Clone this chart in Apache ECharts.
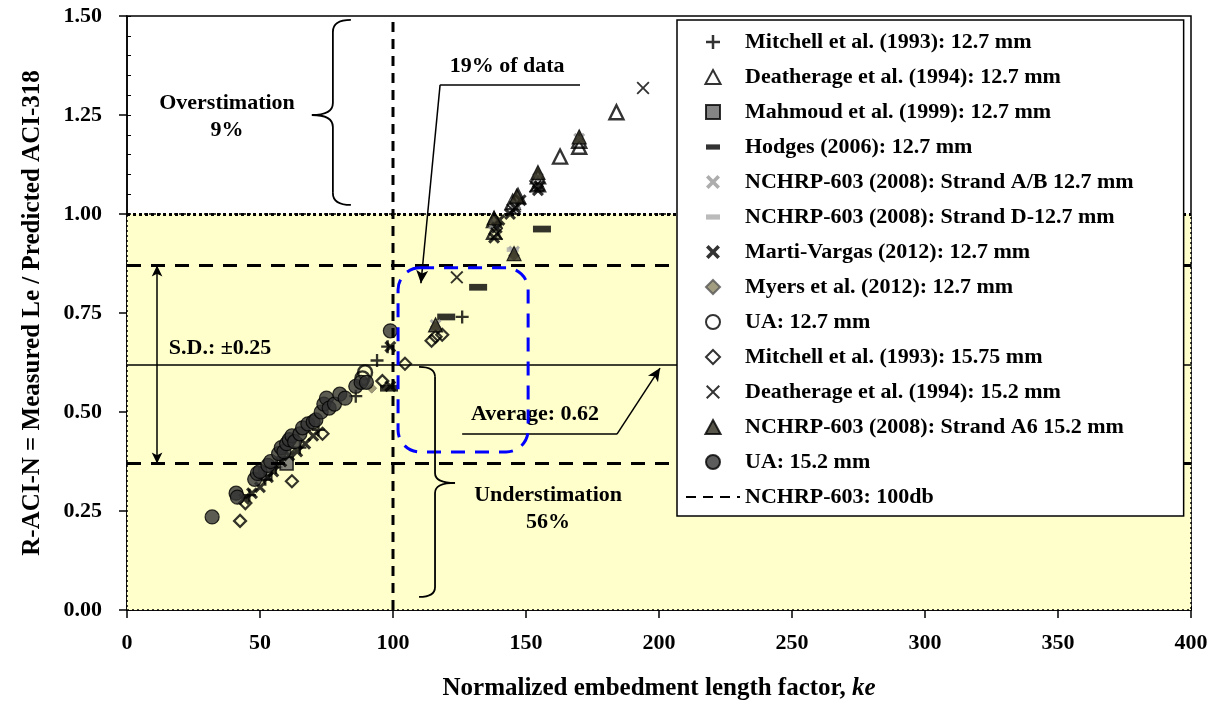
<!DOCTYPE html>
<html><head><meta charset="utf-8">
<script src="https://cdn.jsdelivr.net/npm/echarts@6/dist/echarts.min.js"></script>
<style>html,body{margin:0;padding:0;background:#fff}#c{width:1225px;height:711px}</style>
</head><body><div id="c"></div>
<script>
const FONT = '"Liberation Serif","Times New Roman",serif';

// ---- data (x = normalized embedment length factor ke, y = R-ACI-N) ----
const mitchell127   = [[46,0.29],[52,0.33],[56,0.36],[65,0.41],[72,0.455],[86,0.54],[94,0.63],[98,0.665],[126,0.74]];
const deatherage127 = [[138,0.985],[138,0.955],[145,1.03],[147,1.045],[154.5,1.095],[154.5,1.075],[162.8,1.145],[170,1.185],[170,1.17],[184,1.257]];
const mahmoud127    = [[52,0.345],[60,0.37]];
const hodges127     = [[98.5,0.56],[120,0.74],[132,0.815],[156,0.962]];
const nchrpAB127    = [[116,0.72],[145.5,0.905],[138,0.975],[146,1.025],[154.5,1.09],[170,1.19]];
const nchrpD127     = [[145,0.91]];
const martiVargas127= [[44,0.28],[47,0.295],[50,0.31],[53,0.335],[55,0.35],[58,0.375],[61,0.39],[64,0.4],[67,0.42],[70,0.44],[99,0.665],[99,0.565],[138,0.94],[139,0.965],[140,0.985],[144,1.0],[146,1.015],[148,1.035],[154.5,1.06],[155,1.07]];
const myers127      = [[92,0.56],[116,0.715],[145.5,0.895]];
const ua127         = [[88.5,0.585],[89.5,0.6]];
const mitchell1575  = [[42.5,0.225],[44.5,0.27],[62,0.325],[73.5,0.445],[96,0.578],[104.5,0.622],[114.5,0.68],[116,0.69],[118.5,0.695]];
const deatherage152 = [[124,0.84],[139,0.95],[145,1.01],[153.5,1.07],[194,1.318]];
const nchrpA6152    = [[116,0.72],[138,0.99],[145.5,0.9],[146.5,1.045],[154.5,1.105],[170,1.195]];
const ua152         = [[32,0.235],[41,0.295],[41.5,0.285],[48,0.33],[49,0.345],[50,0.35],[53,0.365],[54,0.375],[57,0.395],[58,0.41],[59,0.40],[60,0.42],[61,0.43],[62,0.44],[63,0.425],[65,0.445],[66,0.46],[68,0.47],[70,0.475],[71,0.48],[73,0.5],[74,0.52],[75,0.535],[76,0.51],[78,0.52],[80,0.545],[82,0.535],[86,0.565],[88,0.575],[90,0.575],[99,0.705]];
const limit100db    = [[100,0],[100,1.5]];

const seriesNames = ['Mitchell et al. (1993): 12.7 mm','Deatherage et al. (1994): 12.7 mm','Mahmoud et al. (1999): 12.7 mm','Hodges (2006): 12.7 mm','NCHRP-603 (2008): Strand A/B 12.7 mm','NCHRP-603 (2008): Strand D-12.7 mm','Marti-Vargas (2012): 12.7 mm','Myers et al. (2012): 12.7 mm','UA: 12.7 mm','Mitchell et al. (1993): 15.75 mm','Deatherage et al. (1994): 15.2 mm','NCHRP-603 (2008): Strand A6 15.2 mm','UA: 15.2 mm','NCHRP-603: 100db'];

const xTicks = {min:0, max:400, step:50};
const yTicks = {min:0, max:1.5, step:0.25};

// reference levels
const avgLine = 0.62, sdUpper = 0.87, sdLower = 0.37, unity = 1.0;

// annotations (data coordinates)
const annotTexts = [
  {text:'Overstimation', x:37.6, y:1.280},
  {text:'9%', x:37.6, y:1.212},
  {text:'19% of data', x:142.9, y:1.374},
  {text:'S.D.: \u00b10.25', x:35, y:0.662},
  {text:'Average: 0.62', x:153.4, y:0.495},
  {text:'Understimation', x:158.3, y:0.290},
  {text:'56%', x:158.3, y:0.222}
];
const blueBox = [[101.9,0.864],[150.8,0.399]];
const braceOver = {x:77.4, yTop:1.49, yBot:1.023, yTip:1.25, dir:-1};
const braceUnder = {x:115.8, yTop:0.614, yBot:0.033, yTip:0.321, dir:1};

const SYM = {
  plus: 'path://M5.75,0H8.25V5.75H14V8.25H8.25V14H5.75V8.25H0V5.75H5.75Z',
  xThin: 'path://M1.4,0L7,5.6L12.6,0L14,1.4L8.4,7L14,12.6L12.6,14L7,8.4L1.4,14L0,12.6L5.6,7L0,1.4Z',
  xBold: 'path://M2.6,0L7,4.4L11.4,0L14,2.6L9.6,7L14,11.4L11.4,14L7,9.6L2.6,14L0,11.4L4.4,7L0,2.6Z',
  tri: 'path://M7,1L13.5,13H0.5Z',
  diamond: 'path://M7,0L14,7L7,14L0,7Z',
  square: 'path://M0,0H14V14H0Z',
  dash: 'path://M0,0M0,5H16V11H0ZM16,16'
};
const NONE = 'rgba(255,255,255,0)';

function sc(name, data, symbol, size, color, border, bw){
  return {name, type:'scatter', data, symbol, symbolSize:size, z:3, silent:true,
    itemStyle:{color, borderColor:border||color, borderWidth:bw||0}};
}

const series = [
  sc(seriesNames[0], mitchell127, SYM.plus, 13, '#000'),
  sc(seriesNames[1], deatherage127, SYM.tri, 14, NONE, '#000', 2.4),
  sc(seriesNames[2], mahmoud127, SYM.square, 13, '#666', '#000', 1.5),
  sc(seriesNames[3], hodges127, SYM.dash, 18, '#000'),
  sc(seriesNames[4], nchrpAB127, SYM.xBold, 12, '#999'),
  sc(seriesNames[5], nchrpD127, SYM.dash, 12, '#aaa'),
  sc(seriesNames[6], martiVargas127, SYM.xBold, 12, '#000'),
  sc(seriesNames[7], myers127, SYM.diamond, 10, '#8b8460', '#555', 0.6),
  sc(seriesNames[8], ua127, 'circle', 14, NONE, '#000', 2.4),
  sc(seriesNames[9], mitchell1575, SYM.diamond, 12, NONE, '#000', 2.2),
  sc(seriesNames[10], deatherage152, SYM.xThin, 13, '#000'),
  sc(seriesNames[11], nchrpA6152, SYM.tri, 14, '#2e2c1e', '#000', 1.2),
  sc(seriesNames[12], ua152, 'circle', 14, '#333', '#000', 1.2),
  {
    name: seriesNames[13], type:'line', data: limit100db, symbol:'none', symbolSize:0, showSymbol:false, z:4, silent:true,
    itemStyle:{color:NONE, borderWidth:0},
    lineStyle:{color:'#000', width:3, type:[10,7]},
    markArea:{silent:true, z:1, itemStyle:{color:'#FFFFCC', borderColor:'#000', borderWidth:1.5, borderType:[2,3]},
      data:[[{coord:[xTicks.min, 0]},{coord:[xTicks.max, unity]}]]},
    markLine:{silent:true, z:5, symbol:['none','none'], label:{show:false}, emphasis:{disabled:true},
      data:[
        {yAxis:unity, lineStyle:{color:'#000', width:3, type:[3,3]}},
        {yAxis:sdUpper, lineStyle:{color:'#000', width:3, type:[14,10]}},
        {yAxis:sdLower, lineStyle:{color:'#000', width:3, type:[14,10]}},
        {yAxis:avgLine, lineStyle:{color:'#000', width:1.5, type:'solid'}},
        [{coord:[117.7,1.326], symbol:'none'},{coord:[170.3,1.326], symbol:'none', lineStyle:{color:'#000', width:1.5, type:'solid'}}],
        [{coord:[117.7,1.326], symbol:'none'},{coord:[110.5,0.825], symbol:'arrow', symbolSize:[9,13], lineStyle:{color:'#000', width:1.5, type:'solid'}}],
        [{coord:[126,0.444], symbol:'none'},{coord:[184.2,0.444], symbol:'none', lineStyle:{color:'#000', width:1.5, type:'solid'}}],
        [{coord:[184.2,0.444], symbol:'none'},{coord:[200.4,0.611], symbol:'arrow', symbolSize:[9,13], lineStyle:{color:'#000', width:1.5, type:'solid'}}],
        [{coord:[11.3,sdUpper], symbol:'arrow', symbolSize:[8,11]},{coord:[11.3,sdLower], symbol:'arrow', symbolSize:[8,11], lineStyle:{color:'#000', width:1.5, type:'solid'}}]
      ]}
  }
];

const labelStyle = {fontFamily:FONT, fontWeight:'bold', fontSize:22, color:'#000'};

const chart = echarts.init(document.getElementById('c'), null, {renderer:'canvas'});
chart.setOption({
  animation:false,
  backgroundColor:'#fff',
  grid:{left:127, right:34, top:16, bottom:101, show:true, borderColor:'#000', borderWidth:1.5, backgroundColor:'rgba(0,0,0,0)'},
  legend:{
    data: seriesNames, orient:'vertical', left:677, top:20, z:20,
    itemWidth:54, itemHeight:14, itemGap:13, padding:[11,50,8,8],
    backgroundColor:'#fff', borderColor:'#000', borderWidth:1.5, selectedMode:false,
    textStyle:{fontFamily:FONT, fontWeight:'bold', fontSize:22, color:'#000', lineHeight:22}
  },
  xAxis:[
    {type:'value', min:xTicks.min, max:xTicks.max, interval:xTicks.step, position:'bottom',
     axisLine:{lineStyle:{color:'#000', width:1.5}}, axisTick:{length:8, lineStyle:{color:'#000', width:1.5}},
     axisLabel:Object.assign({margin:22}, labelStyle), splitLine:{show:false},
     name:'{n|Normalized embedment length factor, }{i|ke}', nameLocation:'middle', nameGap:66,
     nameTextStyle:{rich:{n:{fontFamily:FONT, fontWeight:'bold', fontSize:25, color:'#000'}, i:{fontFamily:FONT, fontWeight:'bold', fontStyle:'italic', fontSize:25, color:'#000'}}}},
    {type:'value', min:xTicks.min, max:xTicks.max, interval:5, position:'bottom', gridIndex:0,
     axisLine:{show:false}, axisTick:{inside:true, length:4, lineStyle:{color:'#000', width:1}}, axisLabel:{show:false}, splitLine:{show:false}}
  ],
  yAxis:[
    {type:'value', min:yTicks.min, max:yTicks.max, interval:yTicks.step, position:'left',
     axisLine:{show:true, lineStyle:{color:'#000', width:1.5}}, axisTick:{show:true, length:8, lineStyle:{color:'#000', width:1.5}},
     axisLabel:Object.assign({margin:25, formatter:v=>v.toFixed(2)}, labelStyle), splitLine:{show:false},
     name:'R-ACI-N = Measured Le / Predicted ACI-318', nameLocation:'middle', nameGap:82,
     nameTextStyle:{fontFamily:FONT, fontWeight:'bold', fontSize:25, color:'#000'}},
    {type:'value', min:yTicks.min, max:yTicks.max, interval:0.05, position:'left', gridIndex:0,
     axisLine:{show:false}, axisTick:{show:true, inside:true, length:4, lineStyle:{color:'#000', width:1}}, axisLabel:{show:false}, splitLine:{show:false}}
  ],
  series: series
});

function P(x,y){ return chart.convertToPixel({xAxisIndex:0, yAxisIndex:0}, [x,y]); }
const BR = {stroke:'#000', lineWidth:1.8, fill:null};
function braceEls(b, hook, tip, r){
  const top = P(b.x, b.yTop), bot = P(b.x, b.yBot), tp = P(b.x, b.yTip);
  const x = top[0], y1 = top[1], y2 = bot[1], yt = tp[1], d = b.dir;
  const hx = x - d*hook, tx = x + d*tip;
  const curve = (x1,y1_,cx,cy,x2,y2_) => ({type:'bezierCurve', z:10, silent:true, shape:{x1, y1:y1_, cpx1:cx, cpy1:cy, x2, y2:y2_}, style:BR});
  const line = (x1,y1_,x2,y2_) => ({type:'line', z:10, silent:true, shape:{x1, y1:y1_, x2, y2:y2_}, style:BR});
  return [
    curve(hx,y1, x,y1, x,y1+r), line(x,y1+r, x,yt-r), curve(x,yt-r, x,yt, tx,yt),
    curve(tx,yt, x,yt, x,yt+r), line(x,yt+r, x,y2-r), curve(x,y2-r, x,y2, hx,y2)
  ];
}
const g = [];
annotTexts.forEach(t => {
  const p = P(t.x, t.y);
  g.push({type:'text', x:p[0], y:p[1], z:10, silent:true,
    style:{text:t.text, x:0, y:0, align:'center', verticalAlign:'middle', fill:'#000', font:`bold 22px ${FONT}`}});
});
const b1 = P(blueBox[0][0], blueBox[0][1]), b2 = P(blueBox[1][0], blueBox[1][1]);
g.push({type:'rect', z:10, silent:true, shape:{x:b1[0], y:b1[1], width:b2[0]-b1[0], height:b2[1]-b1[1], r:22},
  style:{fill:null, stroke:'#0000ff', lineWidth:3, lineDash:[14,10]}});
braceEls(braceOver, 18, 21, 12).forEach(e => g.push(e));
braceEls(braceUnder, 16, 20, 10).forEach(e => g.push(e));
chart.setOption({graphic:{elements:g}});
</script>
</body></html>
